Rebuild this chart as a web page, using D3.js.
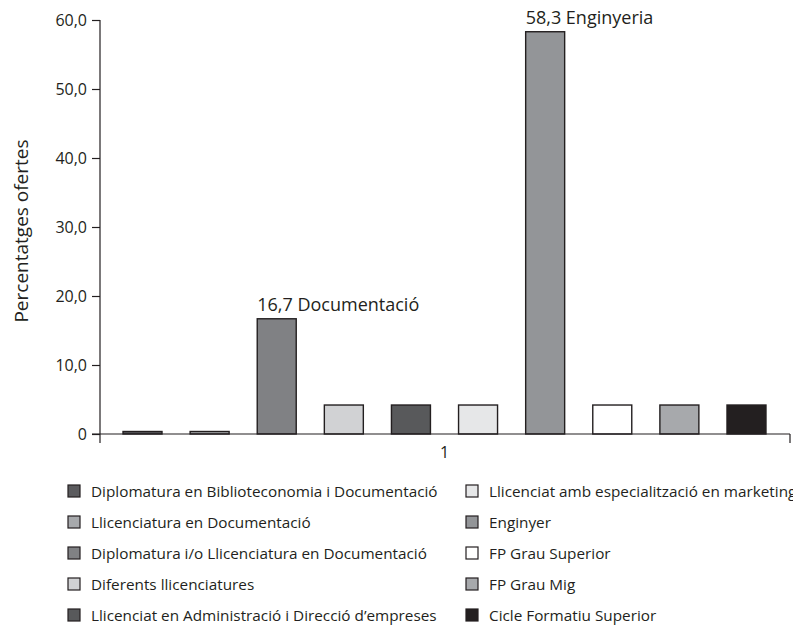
<!DOCTYPE html>
<html>
<head>
<meta charset="utf-8">
<script src="https://cdn.jsdelivr.net/npm/d3@7"></script>
<style>
  html, body { margin: 0; padding: 0; background: #fff; }
  svg { display: block; }
  text { font-family: "Open Sans", Lato, sans-serif; fill: #231f20; }
</style>
</head>
<body>
<svg id="chart" width="793" height="628"></svg>
<script>
const categories = ["1"];
const seriesNames = [
  "Diplomatura en Biblioteconomia i Documentació",
  "Llicenciatura en Documentació",
  "Diplomatura i/o Llicenciatura en Documentació",
  "Diferents llicenciatures",
  "Llicenciat en Administració i Direcció d’empreses",
  "Llicenciat amb especialització en marketing",
  "Enginyer",
  "FP Grau Superior",
  "FP Grau Mig",
  "Cicle Formatiu Superior"
];
const seriesValues = [0, 0, 16.7, 4.2, 4.2, 4.2, 58.3, 4.2, 4.2, 4.2];
const seriesColors = ["#5b5b5e", "#a7a9ac", "#808184", "#d1d2d4", "#58595b",
                      "#e6e7e8", "#939598", "#ffffff", "#a7a9ac", "#231f20"];
const yTicks = [0, 10, 20, 30, 40, 50, 60];
const annotations = [
  { index: 2, text: "16,7 Documentació" },
  { index: 6, text: "58,3 Enginyeria" }
];

const svg = d3.select("#chart");
const x0 = 100, x1 = 789, yTop = 20, yBase = 434;

const y = d3.scaleLinear().domain([0, 60]).range([yBase, yTop]);
const xCat = d3.scaleBand().domain(categories).range([x0, x1]);
const xSer = d3.scaleBand().domain(d3.range(seriesNames.length))
  .range([0, xCat.bandwidth()]).paddingInner(0.419).paddingOuter(0.343);

const fmt = v => v === 0 ? "0" : d3.format(".1f")(v).replace(".", ",");

// Bars
const g = svg.append("g");
g.selectAll("rect.bar").data(seriesValues).join("rect")
  .attr("class", "bar")
  .attr("x", (d, i) => xCat(categories[0]) + xSer(i))
  .attr("width", xSer.bandwidth())
  .attr("y", d => Math.min(y(d), yBase - 2.5))
  .attr("height", d => Math.max(yBase - y(d), 2.5))
  .attr("fill", (d, i) => seriesColors[i])
  .attr("stroke", "#231f20")
  .attr("stroke-width", 1.4);

// Y axis
const yAxis = d3.axisLeft(y).tickValues(yTicks).tickFormat(fmt).tickSize(8).tickPadding(5);
const ya = svg.append("g").attr("transform", `translate(${x0},0)`).call(yAxis);
ya.select(".domain").remove();
ya.selectAll(".tick line").attr("stroke", "#231f20").attr("stroke-width", 1.2);
ya.selectAll(".tick text").style("font-size", "16px").style("font-family", "'Open Sans', sans-serif").attr("fill", "#231f20");
svg.append("line").attr("x1", x0).attr("x2", x0).attr("y1", yTop).attr("y2", yBase + 9)
  .attr("stroke", "#231f20").attr("stroke-width", 1.2);

// X axis
svg.append("line").attr("x1", x0 - 8).attr("x2", x1 + 1).attr("y1", yBase).attr("y2", yBase)
  .attr("stroke", "#231f20").attr("stroke-width", 1.2);
svg.append("line").attr("x1", x1 + 1).attr("x2", x1 + 1).attr("y1", yBase).attr("y2", yBase + 9)
  .attr("stroke", "#231f20").attr("stroke-width", 1.2);
svg.selectAll("text.cat").data(categories).join("text")
  .attr("class", "cat")
  .attr("x", d => xCat(d) + xCat.bandwidth() / 2)
  .attr("y", yBase + 24)
  .attr("text-anchor", "middle")
  .style("font-size", "16px")
  .text(d => d);

// Y label
svg.append("text")
  .attr("transform", `translate(28,231) rotate(-90)`)
  .attr("text-anchor", "middle")
  .style("font-size", "19px")
  .text("Percentatges ofertes");

// Annotations
svg.selectAll("text.ann").data(annotations).join("text")
  .attr("class", "ann")
  .attr("x", d => xCat(categories[0]) + xSer(d.index))
  .attr("y", d => y(seriesValues[d.index]) - 8)
  .style("font-size", "18px")
  .text(d => d.text);

// Legend
const leg = svg.append("g");
const rows = 5;
const items = leg.selectAll("g").data(seriesNames).join("g")
  .attr("transform", (d, i) => `translate(${i < rows ? 68 : 466},${491 + (i % rows) * 31})`);
items.append("rect")
  .attr("x", 0).attr("y", -6).attr("width", 12).attr("height", 12)
  .attr("fill", (d, i) => seriesColors[i])
  .attr("stroke", "#231f20").attr("stroke-width", 1.2);
items.append("text")
  .attr("x", 23).attr("y", 5.5)
  .style("font-size", "15.3px")
  .text(d => d);
</script>
</body>
</html>
